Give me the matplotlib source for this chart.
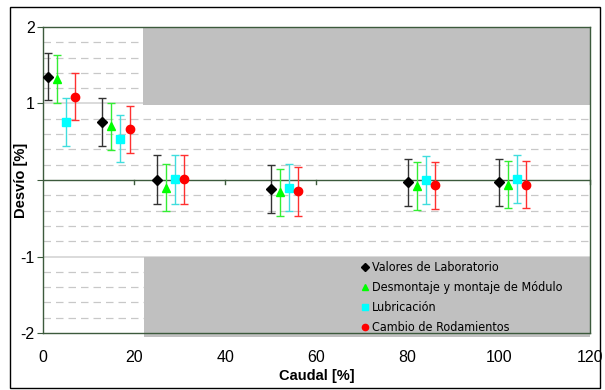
import numpy as np
import matplotlib.pyplot as plt
from matplotlib.patches import Rectangle
from matplotlib import font_manager

# Caudal [%] positions for each series
x_lab = [1, 13, 25, 50, 80, 100]
x_des = [3, 15, 27, 52, 82, 102]
x_lub = [5, 17, 29, 54, 84, 104]
x_rod = [7, 19, 31, 56, 86, 106]

# Desvio [%] values
y_lab = [1.35, 0.76, 0.00, -0.12, -0.03, -0.03]
y_des = [1.32, 0.70, -0.10, -0.16, -0.08, -0.06]
y_lub = [0.76, 0.54, 0.01, -0.10, 0.00, 0.01]
y_rod = [1.09, 0.66, 0.01, -0.15, -0.07, -0.06]

# error half-widths
e_lab = [0.31, 0.31, 0.32, 0.31, 0.31, 0.31]
e_des = [0.31, 0.31, 0.31, 0.31, 0.31, 0.31]
e_lub = [0.31, 0.31, 0.32, 0.31, 0.31, 0.31]
e_rod = [0.31, 0.31, 0.32, 0.32, 0.31, 0.31]

labels = ['Valores de Laboratorio', 'Desmontaje y montaje de Módulo',
          'Lubricación', 'Cambio de Rodamientos']

plt.rcParams['font.family'] = ['Liberation Sans', 'DejaVu Sans']
names = {f.name for f in font_manager.fontManager.ttflist}
tick_font = 'Liberation Sans Narrow' if 'Liberation Sans Narrow' in names else 'Liberation Sans'

fig = plt.figure(figsize=(6.05, 3.90), dpi=100)
ax = fig.add_axes([0.071, 0.146, 0.904, 0.785])

fig.patches.append(Rectangle((0.017, 0.005), 0.975, 0.977, transform=fig.transFigure,
                             fill=False, edgecolor='black', lw=1))

# grey boxes
ax.add_patch(Rectangle((21.9, 0.98), 98.1, 1.02, facecolor='#c0c0c0', edgecolor='none', zorder=1))
ax.add_patch(Rectangle((22.1, -2.05), 97.9, 1.05, facecolor='#c0c0c0', edgecolor='none',
                       zorder=1, clip_on=False))

# grid
for v in np.arange(-1.8, 2.0, 0.2):
    if abs(round(v, 1)) in (0.0, 1.0):
        continue
    ax.axhline(v, color='#c8c8c8', lw=0.9, ls=(0, (6, 4)), zorder=0.5)
ax.axhline(1, color='#d4d4d4', lw=1.2, zorder=0.5)
ax.axhline(-1, color='#d4d4d4', lw=1.2, zorder=0.5)
ax.axhline(0, color='#3c5a3c', lw=1.0, zorder=2)
for t in range(20, 121, 20):
    ax.plot([t, t], [0, -0.05], color='#3c5a3c', lw=1.0, zorder=2, clip_on=False)

series = [
    (x_lab, y_lab, e_lab, 'D', 'black', '#333333', 5),
    (x_des, y_des, e_des, '^', '#00ff00', '#33ee33', 6),
    (x_lub, y_lub, e_lub, 's', '#00ffff', '#40dddd', 5.5),
    (x_rod, y_rod, e_rod, 'o', '#ff0000', '#ff3030', 6),
]
handles = []
for (xs, ys, es, m, c, ec, ms), lab in zip(series, labels):
    ax.errorbar(xs, ys, yerr=es, fmt=m, color=c, ecolor=ec, markersize=ms,
                capsize=3, elinewidth=1.0, capthick=1.0, zorder=3, label=lab)
    handles.append(ax.plot([], [], m, color=c, markersize=4.5)[0])

leg = ax.legend(handles, labels, loc='upper left', bbox_to_anchor=(0.56, 0.271),
                frameon=False, handletextpad=0.1, handlelength=0.8, labelspacing=0.55,
                prop={'family': 'DejaVu Sans', 'stretch': 'condensed', 'size': 9})

ax.set_xlim(0, 120)
ax.set_ylim(-2, 2)
ax.set_xticks(range(0, 121, 20))
ax.set_yticks([-2, -1, 0, 1, 2])
ax.set_yticklabels(['-2', '-1', '', '1', '2'])
ax.tick_params(axis='x', length=0, pad=12)
ax.tick_params(axis='y', length=4, direction='out', color='#3c5a3c', pad=2)
for lbl in ax.get_xticklabels() + ax.get_yticklabels():
    lbl.set_family(tick_font)
    lbl.set_fontsize(11.5)
for s in ax.spines.values():
    s.set_color('#3c5a3c')
    s.set_linewidth(1.0)

ax.set_xlabel('Caudal [%]', fontweight='bold', fontsize=10.5, labelpad=3)
ax.set_ylabel('Desvío [%]', fontweight='bold', fontsize=10.5)
ax.yaxis.set_label_coords(-0.027, 0.5)

fig.savefig('out.png', dpi=100)
